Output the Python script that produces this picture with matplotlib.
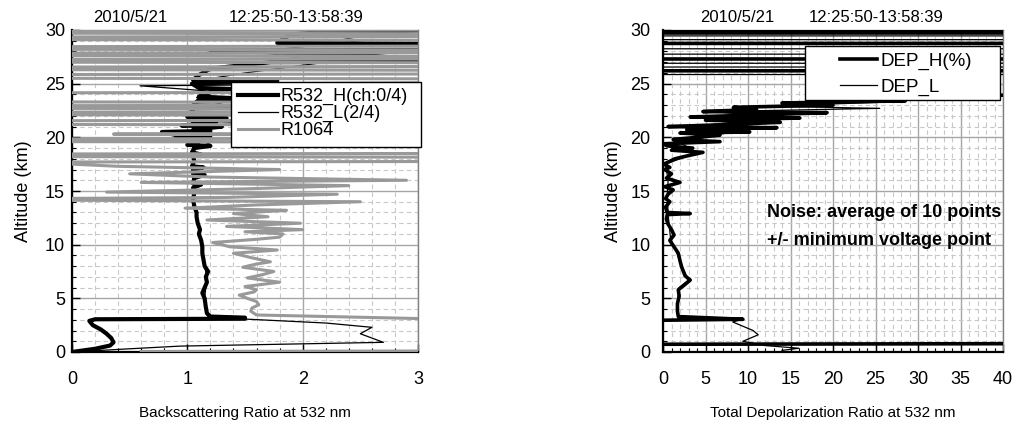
import numpy as np
import matplotlib
matplotlib.use("Agg")
import matplotlib.pyplot as plt
from matplotlib.ticker import MultipleLocator
from matplotlib.patches import Rectangle

plt.rcParams['font.family'] = ['Liberation Sans', 'DejaVu Sans']

nan = np.nan

# ---- left panel: backscattering ratio at 532 nm ----
r532h_alt = [0.0, 0.3, 0.6, 0.9, 1.3, 1.7, 2.1, 2.5, 2.9, 3.05, 3.1, 3.2, 3.3, 3.6, 4.2, 5.0, 5.5, 6.0,
             6.5, 7.0, 7.5, 8.0, 8.6, 9.2, 9.8, 10.4, 11.0, 11.4, 12.0, 12.6, 13.0, 13.6, 14.2, 14.8,
             15.3, 15.6, 15.7, 16.2, 16.5, 16.6, 17.0, 17.2, 17.3, 17.8, 18.3, 18.4, 18.6, 19.0, 19.2,
             19.3, 19.6, 19.9, 20.0, 20.1, 20.5, 20.6, 20.7, 21.0, 21.1, 21.4, 21.5, 21.8, 21.9, 22.3,
             22.7, 22.8, 23.0, 23.5, 23.6, 23.8, 24.2, 24.5, 24.6, 25.0, 25.25, 25.35, 25.8, 26.4, 27.0,
             27.05, 27.6, 28.1, 28.15, 28.7, 28.8, 29.6, 29.7, 30.0]
r532h_val = [0.0, 0.2, 0.33, 0.36, 0.34, 0.3, 0.25, 0.18, 0.15, 0.2, 1.5, 1.5, 1.2, 1.17, 1.16, 1.15, 1.13, 1.15,
             1.17, 1.16, 1.18, 1.15, 1.14, 1.13, 1.13, 1.12, 1.1, 1.11, 1.09, 1.08, 1.08, 1.06, 1.05, 1.06,
             1.05, 1.12, 1.05, 1.06, 1.15, 1.05, 1.05, 1.14, 1.04, 1.06, 1.05, 1.12, 1.04, 1.06, 1.2,
             1.0, 1.1, 0.9, 1.2, 0.95, 0.78, 1.2, 1.05, 1.3, 0.95, 1.25, 1.05, 1.34, 1.0, 1.05,
             1.03, 1.6, 1.05, 1.1, 1.5, 1.1, 1.2, 1.4, 1.1, 1.04, 1.78, 1.05, 1.1, 1.2, 1.72,
             3.2, 2.6, 1.2, 3.2, 3.2, 1.78, 1.9, 2.04, 3.2]

r532l_alt = [0.0, 0.3, 0.55, 0.9, 1.3, 1.7, 2.3, 2.7, 3.2, 3.4, 4.2, 5.0, 6.0, 7.0, 8.0, 9.2, 10.4,
             11.4, 12.6, 13.6, 14.8, 16.0, 17.0, 18.0, 19.0, 19.5, 20.0, 20.6, 21.0, 21.4, 21.5,
             22.0, 22.7, 23.2, 23.7, 24.3, 24.8, 24.9, 25.3, 26.0, 27.0, 28.0, 29.0, 30.0]
r532l_val = [0.0, 0.5, 0.94, 2.7, 2.6, 2.5, 2.6, 2.2, 1.25, 1.18, 1.16, 1.15, 1.16, 1.17, 1.15, 1.13, 1.12,
             1.1, 1.08, 1.06, 1.06, 1.05, 1.06, 1.05, 1.07, 1.2, 0.98, 1.1, 1.15, 1.5, 1.05,
             1.08, 1.05, 1.3, 1.08, 1.2, 0.59, 1.8, 1.1, 1.5, 2.2, 1.6, 2.5, 2.0]

r1064_alt = [0.05, 0.1, 3.0, 3.45, 3.8, 4.1, 4.4, 4.7, 5.0, 5.3, 5.6, 5.8, 6.1, 6.5, 6.9, 7.2, 7.5, 7.9,
             8.2, 8.4, 8.8, 9.2, 9.5, 9.8, 10.2, 10.5, 10.7, 11.0, 11.2, 11.4, 11.7, 12.0, 12.3, 12.6,
             12.9, 13.2, 13.4, 13.7, 14.0, 14.15, 14.3, 14.4, 14.7, 14.9, 15.2, 15.5, 15.8, 16.0, 16.3,
             16.6, 17.0, 17.3, 17.6, 17.7, 17.75, 18.15, 18.2, 18.45, 18.5, 19.55, 19.6, 19.85, 19.9,
             20.25, 20.3, 20.35, 21.15, 21.2, 21.55, 21.6, 22.05, 22.1, 22.35, 22.4, 22.65, 22.7, 22.95,
             23.0, 23.25, 23.3, 24.15, 24.2, 24.9, 25.0, 25.1, 25.45, 25.5, 25.85, 25.9, 26.25, 26.3,
             26.55, 26.6, 26.95, 27.0, 27.25, 27.3, 27.55, 27.6, 27.85, 27.9, 28.15, 28.2, 28.45, 28.5,
             29.05, 29.1, 29.35, 29.4, 29.65, 29.7, 29.95, 30.0]
r1064_val = [0.6, 3.5, 3.5, 1.6, 1.55, 1.56, 1.62, 1.6, 1.52, 1.45, 1.58, 1.6, 1.5, 1.8, 1.52, 1.65, 1.75, 1.48,
             1.6, 1.72, 1.55, 1.4, 1.78, 1.37, 1.22, 1.6, 1.8, 1.83, 1.5, 2.0, 1.34, 1.98, 1.17, 1.7,
             1.4, 1.86, 0.98, 1.6, 2.5, -0.2, -0.2, 1.34, 2.3, 0.3, 1.5, 2.4, 0.6, 2.9, 1.2,
             0.5, 1.8, 0.4, -0.2, -0.2, 3.3, 3.3, -0.2, -0.2, 3.3, 3.3, -0.2, -0.2, 3.3,
             3.3, 0.36, 3.3, 3.3, -0.2, -0.2, 3.3, 3.3, -0.2, -0.2, 3.3, 3.3, -0.2, -0.2,
             3.3, 3.3, -0.2, -0.2, 3.3, 3.3, 1.5, 3.3, 3.3, -0.2, -0.2, 3.3, 3.3, -0.2,
             -0.2, 3.3, 3.3, -0.2, -0.2, 3.3, 3.3, -0.2, -0.2, 3.3, 3.3, -0.2, -0.2, 3.3,
             3.3, -0.2, -0.2, 3.3, 3.3, -0.2, -0.2, 3.3]

# ---- right panel: total depolarization ratio at 532 nm (%) ----
deph_alt = [0.72, 0.78, nan, 2.95, 3.05, 3.3, 3.8, 4.5, 5.2, 5.8, 6.3, 6.7, 7.1, 7.5, 7.9, 8.5, 9.2, 9.8,
            10.4, 10.9, 11.4, 11.9, 12.4, 12.8, 12.9, 13.0, 13.5, 14.0, 14.3, 14.7, 15.1, 15.4, 15.8,
            16.2, 16.6, 17.0, 17.2, 17.5, 18.0, 18.3, 18.6, 18.8, 19.0, 19.2, 19.4, 19.6, 19.8, 20.0,
            20.2, 20.4, 20.5, 20.7, 20.9, 21.0, 21.2, 21.4, 21.6, 21.8, 21.9, 22.1, 22.3, 22.4, 22.6,
            22.8, 23.0, 23.2, 23.4, 23.5, 23.7, 24.0, 26.2, 26.2, 27.3, 27.3, 28.75, 28.75, 29.72,
            29.72, 29.9, 29.9, 30.0]
deph_val = [-1, 45, nan, -1, 9.4, 1.8, 1.7, 1.7, 1.9, 1.8, 2.6, 3.2, 2.6, 2.4, 2.2, 2.0, 1.8, 1.3,
            0.8, 1.3, 1.0, 0.6, 0.4, 0.5, 3.2, 0.5, 0.3, 0.8, 0.3, 0.6, 1.2, 0.2, 2.0,
            0.4, 1.0, 0.2, 0.8, 0.1, 1.4, 3.0, 4.7, 1.0, 3.5, 0.5, 0.0, 6.7, 1.2, 4.0,
            6.7, 2.0, 10.2, 2.8, 13.4, 0.6, 8.0, 13.8, 5.0, 16.1, 3.2, 12.0, 19.3, 4.7, 11.0,
            8.3, 20.0, 14.0, 28.5, 17.0, 24.0, 45, 45, -1, -1, 45, 45, -1, -1,
            45, 45, -1, -1]

depl_alt = [0.15, 0.35, 0.6, 1.0, 1.6, 2.0, 2.8, 3.05, 3.3, 4.5, 6.0, 6.7, 8.0, 9.5, 10.5, 12.0,
            13.0, 14.5, 16.0, 17.5, 18.6, 19.5, 20.5, 21.0, 21.8, 22.4, 22.7, 22.9, 23.3, 23.6, 24.0,
            25.85, 25.85, 26.55, 26.55, 26.9, 26.9, 27.75, 27.75, 28.25, 28.25, 29.1, 29.1, 29.45,
            29.45, 30.0]
depl_val = [14.0, 16.0, 12.0, 9.4, 11.2, 10.6, 8.2, 9.4, 1.8, 1.7, 1.9, 3.0, 2.2, 1.5, 0.9, 0.7,
            0.6, 0.5, 0.6, 0.3, 4.0, 2.0, 8.0, 3.0, 14.0, 6.0, 25.5, 12.0, 27.0, 20.0, 45,
            45, -1, -1, 45, 45, -1, -1, 45, 45, -1, -1, 45, 45,
            -1, -1]

title_date = '2010/5/21'
title_time = '12:25:50-13:58:39'

fig = plt.figure(figsize=(10.16, 4.21), dpi=100)
ax1 = fig.add_axes([72/1016, 69/421, 346/1016, 322/421])
ax2 = fig.add_axes([663/1016, 69/421, 340/1016, 322/421])


def style_axes(ax, xmax, xmajor, xminor):
    ax.set_xlim(0, xmax)
    ax.set_ylim(0, 30)
    ax.xaxis.set_major_locator(MultipleLocator(xmajor))
    ax.xaxis.set_minor_locator(MultipleLocator(xminor))
    ax.yaxis.set_major_locator(MultipleLocator(5))
    ax.yaxis.set_minor_locator(MultipleLocator(1))
    ax.set_axisbelow(True)
    ax.grid(which='major', color='#a6a6a6', lw=1.0, ls='-')
    ax.grid(which='minor', color='#c8c8c8', lw=0.8, ls=(0, (4, 3)))
    ax.tick_params(which='major', direction='in', length=6, width=1, labelsize=13)
    ax.tick_params(which='minor', direction='in', length=3, width=0.8)
    ax.tick_params(axis='x', which='major', pad=14)
    for s in ['left', 'bottom']:
        ax.spines[s].set_color('black')
        ax.spines[s].set_linewidth(1.6)
    for s in ['top', 'right']:
        ax.spines[s].set_color('#808080')
        ax.spines[s].set_linewidth(1.0)


def legend_box(ax, x0, y0, x1, y1):
    ax.add_patch(Rectangle((x0, y0), x1 - x0, y1 - y0, transform=ax.transAxes, facecolor='white',
                           edgecolor='black', lw=1.0, zorder=5, clip_on=False))


style_axes(ax1, 3, 1, 0.2)
ax1.tick_params(axis='y', which='major', pad=5)
ax1.set_ylabel('Altitude (km)', fontsize=13, labelpad=9)
ax1.plot(r532h_val, r532h_alt, color='black', lw=3.0, label='R532_H(ch:0/4)', zorder=2)
ax1.plot(r532l_val, r532l_alt, color='black', lw=0.9, label='R532_L(2/4)', zorder=3)
ax1.plot(r1064_val, r1064_alt, color='#999999', lw=2.2, label='R1064', zorder=4)
ax1.set_xlabel('Backscattering Ratio at 532 nm', fontsize=11, labelpad=13)
legend_box(ax1, 0.46, 0.637, 1.009, 0.839)
leg1 = ax1.legend(loc='upper left', bbox_to_anchor=(0.48, 0.82),
                  borderaxespad=0, fontsize=13, frameon=False, labelspacing=0.0, handlelength=2.2,
                  handletextpad=0.15, borderpad=0)
leg1.set_zorder(6)

style_axes(ax2, 40, 5, 1)
ax2.tick_params(axis='y', which='major', pad=9)
ax2.set_ylabel('Altitude (km)', fontsize=13, labelpad=6)
ax2.plot(deph_val, deph_alt, color='black', lw=2.6, label='DEP_H(%)', zorder=3)
ax2.plot(depl_val, depl_alt, color='black', lw=0.9, label='DEP_L', zorder=4)
ax2.set_xlabel('Total Depolarization Ratio at 532 nm', fontsize=11, labelpad=13)
legend_box(ax2, 0.418, 0.783, 0.991, 0.950)
leg2 = ax2.legend(loc='upper left', bbox_to_anchor=(0.52, 0.93), borderaxespad=0, fontsize=13.5,
                  frameon=False, labelspacing=0.45, handlelength=2.0, handletextpad=0.15, borderpad=0)
leg2.set_zorder(6)
ax2.text(12.2, 13.0, 'Noise: average of 10 points', fontsize=13, fontweight='bold', va='center', zorder=6)
ax2.text(12.2, 10.4, '+/- minimum voltage point', fontsize=13, fontweight='bold', va='center', zorder=6)

fig.text(130/1016, 403/421, title_date, fontsize=12, ha='center', va='center')
fig.text(296/1016, 403/421, title_time, fontsize=12, ha='center', va='center')
fig.text(737/1016, 403/421, title_date, fontsize=12, ha='center', va='center')
fig.text(876/1016, 403/421, title_time, fontsize=12, ha='center', va='center')

fig.savefig('out.png', dpi=100)
